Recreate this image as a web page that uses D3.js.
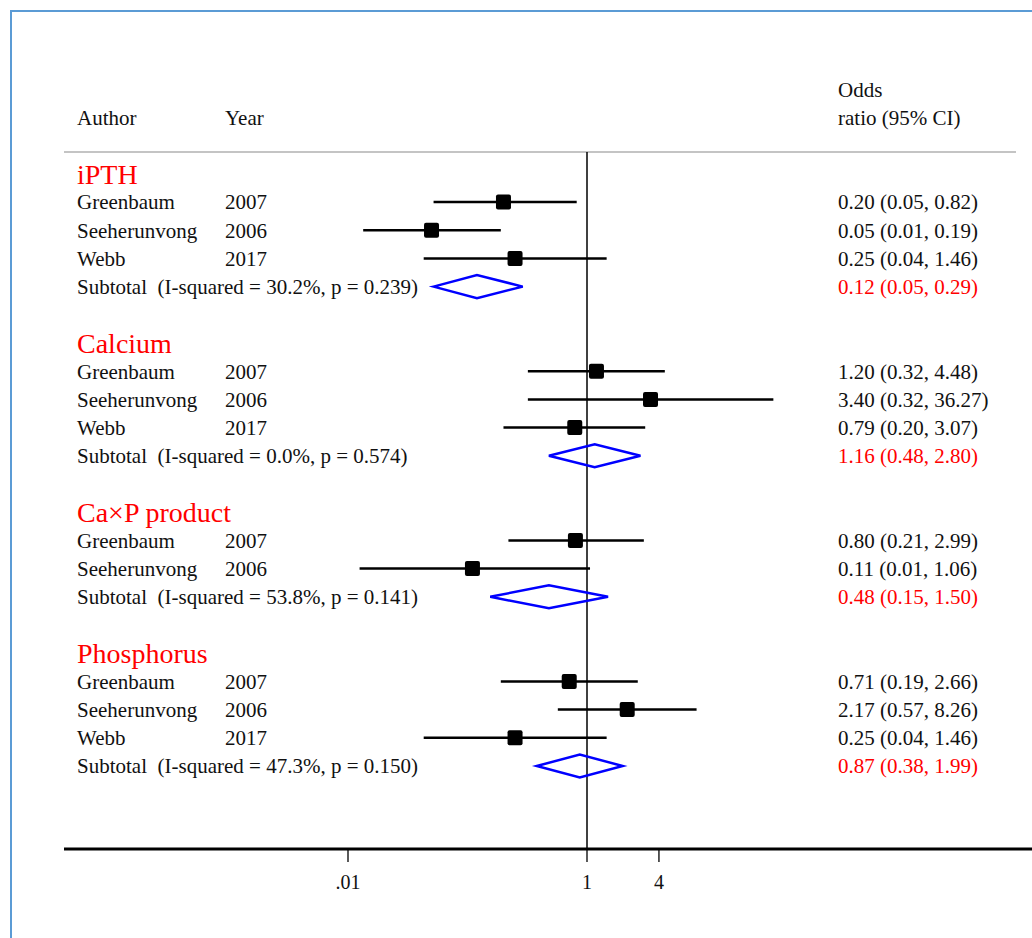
<!DOCTYPE html>
<html>
<head>
<meta charset="utf-8">
<script src="https://cdn.jsdelivr.net/npm/d3@7"></script>
<style>
body { margin: 0; background: #fff; }
text { font-family: "Liberation Serif", "DejaVu Serif", serif; white-space: pre; }
</style>
</head>
<body>
<div id="chart"></div>
<script>
// groups and studies
var groups = ["iPTH", "Calcium", "Ca\u00d7P product", "Phosphorus"];
var authors = [
    ["Greenbaum", "Seeherunvong", "Webb"],
    ["Greenbaum", "Seeherunvong", "Webb"],
    ["Greenbaum", "Seeherunvong"],
    ["Greenbaum", "Seeherunvong", "Webb"]
];
var years = [
    ["2007", "2006", "2017"],
    ["2007", "2006", "2017"],
    ["2007", "2006"],
    ["2007", "2006", "2017"]
];
var or = [[0.20, 0.05, 0.25], [1.20, 3.40, 0.79], [0.80, 0.11], [0.71, 2.17, 0.25]];
var lo = [[0.052, 0.0134, 0.043], [0.32, 0.32, 0.20], [0.22, 0.0125], [0.19, 0.57, 0.043]];
var hi = [[0.82, 0.19, 1.46], [4.48, 36.27, 3.07], [2.99, 1.06], [2.66, 8.26, 1.46]];
var orLabels = [
    ["0.20 (0.05, 0.82)", "0.05 (0.01, 0.19)", "0.25 (0.04, 1.46)"],
    ["1.20 (0.32, 4.48)", "3.40 (0.32, 36.27)", "0.79 (0.20, 3.07)"],
    ["0.80 (0.21, 2.99)", "0.11 (0.01, 1.06)"],
    ["0.71 (0.19, 2.66)", "2.17 (0.57, 8.26)", "0.25 (0.04, 1.46)"]
];
var subOr = [0.12, 1.16, 0.48, 0.87];
var subLo = [0.052, 0.48, 0.155, 0.38];
var subHi = [0.29, 2.80, 1.50, 1.99];
var subText = [
    "Subtotal  (I-squared = 30.2%, p = 0.239)",
    "Subtotal  (I-squared = 0.0%, p = 0.574)",
    "Subtotal  (I-squared = 53.8%, p = 0.141)",
    "Subtotal  (I-squared = 47.3%, p = 0.150)"
];
var subLabels = ["0.12 (0.05, 0.29)", "1.16 (0.48, 2.80)", "0.48 (0.15, 1.50)", "0.87 (0.38, 1.99)"];
var tickValues = [0.01, 1, 4];
var tickLabels = [".01", "1", "4"];

var W = 1032, H = 938;
var fs = 21;
var svg = d3.select("#chart").append("svg").attr("width", W).attr("height", H);

// frame
svg.append("path").attr("d", "M11,938 V11 H1032").attr("fill", "none")
    .attr("stroke", "#5b9bd5").attr("stroke-width", 2);

var x = d3.scaleLog().domain([0.01, 1]).range([348, 587]);

// build row list
var rows = [];
var r = 0;
groups.forEach(function (g, gi) {
    rows.push({ type: "head", g: gi, row: r++ });
    authors[gi].forEach(function (a, i) {
        rows.push({ type: "study", g: gi, i: i, row: r++ });
    });
    rows.push({ type: "sub", g: gi, row: r++ });
    r++;
});
var y = d3.scaleLinear().domain([0, 1]).range([173.8, 202]);

// column headers
var hdr = svg.append("g").attr("font-size", fs).attr("fill", "#111");
hdr.append("text").attr("x", 77).attr("y", 125).text("Author");
hdr.append("text").attr("x", 225).attr("y", 125).text("Year");
hdr.append("text").attr("x", 838).attr("y", 97).text("Odds");
hdr.append("text").attr("x", 838).attr("y", 125).text("ratio (95% CI)");

svg.append("line").attr("x1", 64).attr("x2", 1016).attr("y1", 152).attr("y2", 152)
    .attr("stroke", "#c4c4c4").attr("stroke-width", 2);

// axis
var axisY = 849;
svg.append("line").attr("x1", 64).attr("x2", 1032).attr("y1", axisY).attr("y2", axisY)
    .attr("stroke", "#000").attr("stroke-width", 3);
svg.selectAll(".tick").data(tickValues).enter().append("line").attr("class", "tick")
    .attr("x1", function (d) { return x(d); }).attr("x2", function (d) { return x(d); })
    .attr("y1", axisY).attr("y2", 862).attr("stroke", "#000").attr("stroke-width", 1.3);
svg.selectAll(".tlab").data(tickValues).enter().append("text").attr("class", "tlab")
    .attr("x", function (d) { return x(d); }).attr("y", 889).attr("text-anchor", "middle")
    .attr("font-size", 20).attr("fill", "#111").text(function (d, i) { return tickLabels[i]; });

// null line
svg.append("line").attr("x1", x(1)).attr("x2", x(1)).attr("y1", 152).attr("y2", axisY)
    .attr("stroke", "#000").attr("stroke-width", 1.5);

var g = svg.append("g");
rows.forEach(function (d) {
    var yy = y(d.row);
    if (d.type === "head") {
        g.append("text").attr("x", 77).attr("y", yy).attr("dy", "0.35em")
            .attr("font-size", 28).attr("fill", "#ff0000").text(groups[d.g]);
    } else if (d.type === "study") {
        var gi = d.g, i = d.i;
        g.append("text").attr("x", 77).attr("y", yy).attr("dy", "0.35em").attr("font-size", fs)
            .attr("fill", "#111").text(authors[gi][i]);
        g.append("text").attr("x", 225).attr("y", yy).attr("dy", "0.35em").attr("font-size", fs)
            .attr("fill", "#111").text(years[gi][i]);
        g.append("line").attr("x1", x(lo[gi][i])).attr("x2", x(hi[gi][i]))
            .attr("y1", yy).attr("y2", yy).attr("stroke", "#000").attr("stroke-width", 2.5);
        g.append("rect").attr("x", x(or[gi][i]) - 7.5).attr("y", yy - 7.5)
            .attr("width", 15).attr("height", 15).attr("rx", 2).attr("fill", "#000");
        g.append("text").attr("x", 838).attr("y", yy).attr("dy", "0.35em").attr("font-size", fs)
            .attr("fill", "#111").text(orLabels[gi][i]);
    } else {
        var gi2 = d.g;
        g.append("text").attr("x", 77).attr("y", yy).attr("dy", "0.35em").attr("font-size", fs)
            .attr("fill", "#111").text(subText[gi2]);
        var pts = [[x(subLo[gi2]), yy], [x(subOr[gi2]), yy - 11.5], [x(subHi[gi2]), yy], [x(subOr[gi2]), yy + 11.5]];
        g.append("path").attr("d", d3.line()(pts) + "Z").attr("fill", "none")
            .attr("stroke", "#0000ff").attr("stroke-width", 2.5);
        g.append("text").attr("x", 838).attr("y", yy).attr("dy", "0.35em").attr("font-size", fs)
            .attr("fill", "#ff0000").text(subLabels[gi2]);
    }
});
</script>
</body>
</html>
